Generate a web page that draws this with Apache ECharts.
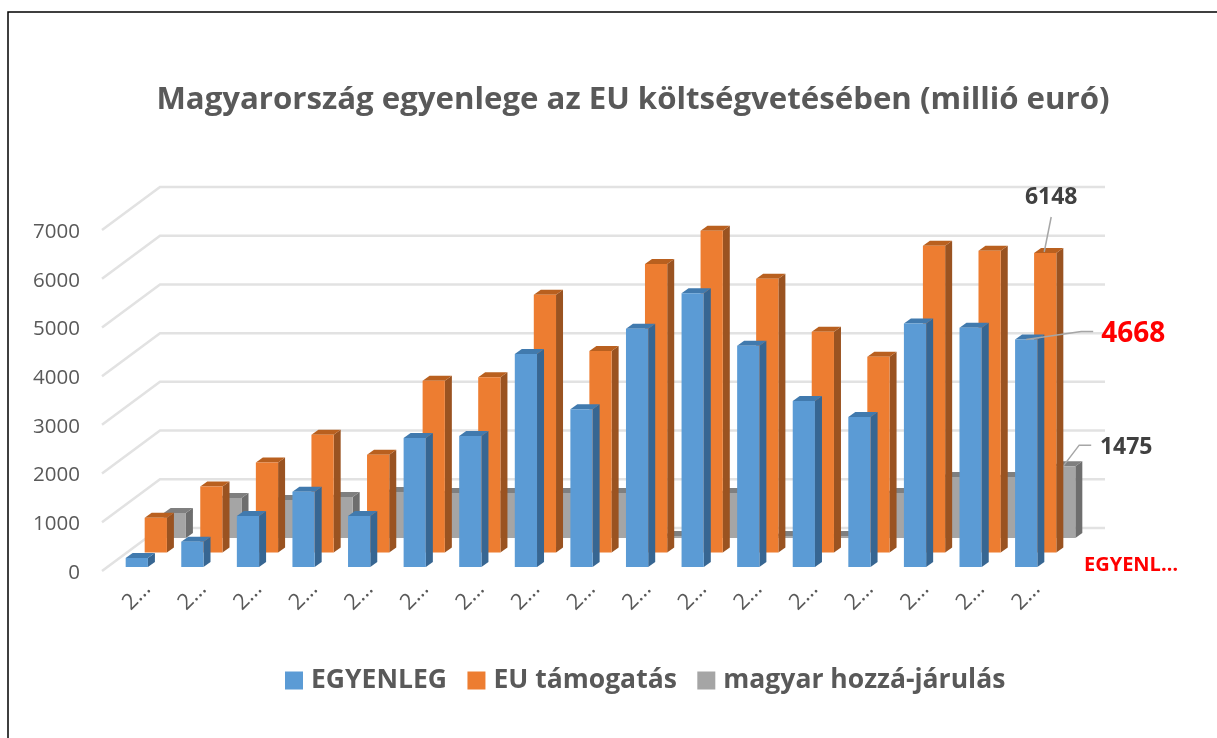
<!DOCTYPE html>
<html>
<head>
<meta charset="utf-8">
<style>
html, body { margin: 0; padding: 0; background: #fff; }
#main { width: 1217px; height: 738px; }
</style>
<script src="https://cdn.jsdelivr.net/npm/echarts@6/dist/echarts.min.js"></script>
</head>
<body>
<div id="main"></div>
<script>
var categories = ['2…', '2…', '2…', '2…', '2…', '2…', '2…', '2…', '2…', '2…', '2…', '2…', '2…', '2…', '2…', '2…', '2…'];
var egyenleg = [185, 520, 1047, 1546, 1047, 2650, 2690, 4370, 3240, 4890, 5620, 4540, 3410, 3080, 5000, 4910, 4668];
var tamogatas = [712, 1355, 1848, 2417, 2006, 3525, 3600, 5290, 4135, 5920, 6605, 5620, 4530, 4020, 6298, 6195, 6148];
var hozzajarulas = [513, 821, 780, 842, 945, 925, 925, 925, 925, 40, 925, 40, 40, 925, 1250, 1250, 1475];
var yTicks = [0, 1000, 2000, 3000, 4000, 5000, 6000, 7000];

var FONT = '"Open Sans", sans-serif';

function toPoints(arr) {
    return arr.map(function (v, i) { return [i, v]; });
}

// one row of pseudo 3D bars, dx/dy moves the row back into the chart
function barSeries(name, values, colors, dx, dy, z, note) {
    return {
        name: name,
        type: 'custom',
        z: z,
        itemStyle: { color: colors.front },
        encode: { x: 0, y: 1 },
        data: toPoints(values),
        renderItem: function (params, api) {
            var top = api.coord([api.value(0), api.value(1)]);
            var base = api.coord([api.value(0), 0]);
            var w = api.size([1, 0])[0] * 0.4;
            var x0 = top[0] + dx - w / 2, x1 = x0 + w;
            var y0 = top[1] + dy, y1 = base[1] + dy;
            var children = [
                { type: 'polygon', shape: { points: [[x1, y0], [x1 + 7, y0 - 5], [x1 + 7, y1 - 5], [x1, y1]] }, style: { fill: colors.side } },
                { type: 'polygon', shape: { points: [[x0, y0], [x0 + 7, y0 - 5], [x1 + 7, y0 - 5], [x1, y0]] }, style: { fill: colors.top } },
                { type: 'rect', shape: { x: x0, y: y0, width: w, height: y1 - y0 }, style: { fill: colors.front } }
            ];
            if (note && params.dataIndex === values.length - 1) {
                var cx = x0 + w / 2;
                children.push({
                    type: 'polyline',
                    z2: 50,
                    shape: { points: note.line.map(function (p) { return [cx + p[0], y0 + p[1]]; }) },
                    style: { stroke: '#A6A6A6', lineWidth: 1.5, fill: null }
                });
                children.push({
                    type: 'text',
                    z2: 50,
                    style: {
                        text: String(api.value(1)),
                        x: cx + note.text[0],
                        y: y0 + note.text[1],
                        fill: note.color,
                        font: note.font,
                        align: 'center',
                        verticalAlign: 'middle'
                    }
                });
            }
            return { type: 'group', children: children };
        }
    };
}

var myChart = echarts.init(document.getElementById('main'));
var option = {
    animation: false,
    backgroundColor: '#fff',
    title: {
        text: 'Magyarország egyenlege az EU költségvetésében (millió euró)',
        left: 633,
        top: 100,
        padding: 0,
        textAlign: 'center',
        textVerticalAlign: 'middle',
        textStyle: { fontFamily: FONT, fontSize: 31.2, fontWeight: 'bold', color: '#595959' }
    },
    legend: {
        left: 285,
        top: 667,
        padding: 0,
        itemWidth: 18,
        itemHeight: 18,
        itemGap: 20.5,
        icon: 'rect',
        data: ['EGYENLEG', 'EU támogatás', 'magyar hozzá-járulás'],
        textStyle: { fontFamily: FONT, fontSize: 26.5, fontWeight: 'bold', color: '#595959', padding: [0, 0, 0, 3] }
    },
    grid: { left: 109, top: 232, width: 945, height: 341 },
    xAxis: {
        type: 'category',
        data: categories,
        axisLine: { show: false },
        axisTick: { show: false },
        axisLabel: {
            interval: 0,
            rotate: 45,
            margin: 23,
            align: 'center',
            verticalAlign: 'middle',
            fontFamily: FONT,
            fontSize: 22,
            color: '#595959'
        }
    },
    yAxis: {
        type: 'value',
        min: 0,
        max: 7000,
        interval: 1000,
        axisLine: { show: false },
        axisTick: { show: false },
        splitLine: { show: false },
        axisLabel: {
            margin: 29,
            formatter: function (v) { return String(v); },
            fontFamily: FONT,
            fontSize: 20.5,
            color: '#595959'
        }
    },
    graphic: [
        {
            type: 'polyline',
            shape: { points: [[8, 738], [8, 12], [1217, 12]] },
            style: { stroke: '#000', lineWidth: 1.5, fill: null }
        },
        {
            type: 'text',
            style: { text: 'EGYENL…', x: 1131, y: 565, align: 'center', verticalAlign: 'middle', fill: '#FF0000', font: 'bold 20px ' + FONT }
        }
    ],
    series: [
        {
            // floor and back wall lines
            type: 'custom',
            name: 'grid',
            z: 1,
            encode: { x: 0, y: 1 },
            data: yTicks.map(function (v) { return [0, v]; }),
            renderItem: function (params, api) {
                var p = api.coord([0, api.value(1)]);
                var cs = params.coordSys;
                return {
                    type: 'polyline',
                    shape: { points: [[cs.x - 7, p[1] - 2], [cs.x + 51, p[1] - 45], [cs.x + cs.width + 51, p[1] - 45]] },
                    style: { stroke: '#E2E2E2', lineWidth: 2.5, fill: null }
                };
            }
        },
        barSeries('magyar hozzá-járulás', hozzajarulas, { front: '#A5A5A5', side: '#6E6E6E', top: '#7F7F7F' }, 38, -35, 2,
            { line: [[-1, 0], [15, -21], [27, -21]], text: [62, -19], color: '#404040', font: 'bold 23px ' + FONT }),
        barSeries('EU támogatás', tamogatas, { front: '#ED7D31', side: '#9A5321', top: '#B9601F' }, 19, -20.5, 3,
            { line: [[-1, -1], [6, -36]], text: [6, -56], color: '#404040', font: 'bold 23px ' + FONT }),
        barSeries('EGYENLEG', egyenleg, { front: '#5B9BD5', side: '#376692', top: '#417AAE' }, 0, -6, 4,
            { line: [[0, 0], [55, -8], [67, -8]], text: [107, -6], color: '#FF0000', font: 'bold 28px ' + FONT })
    ]
};
myChart.setOption(option);
</script>
</body>
</html>
